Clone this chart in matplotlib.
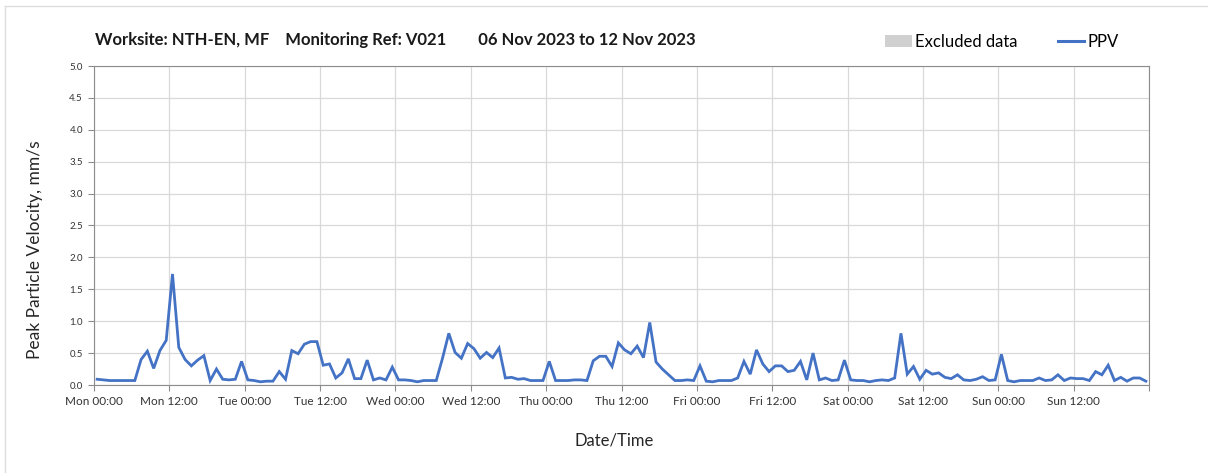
import numpy as np
import matplotlib.pyplot as plt
from matplotlib.patches import Patch
from matplotlib.lines import Line2D

plt.rcParams['font.family'] = ['Lato', 'DejaVu Sans']

# hourly PPV readings, Mon 06 Nov 00:30 onwards (mm/s)
ppv = [
    0.09, 0.08, 0.07, 0.07, 0.07, 0.07, 0.07, 0.40, 0.53, 0.26, 0.54, 0.70,
    1.74, 0.59, 0.40, 0.30, 0.39, 0.46, 0.07, 0.25, 0.09, 0.08, 0.09, 0.37,
    0.08, 0.07, 0.05, 0.06, 0.06, 0.21, 0.09, 0.54, 0.49, 0.64, 0.68, 0.68,
    0.31, 0.33, 0.11, 0.19, 0.41, 0.10, 0.10, 0.39, 0.08, 0.11, 0.08, 0.28,
    0.08, 0.08, 0.07, 0.05, 0.07, 0.07, 0.07, 0.42, 0.81, 0.51, 0.42, 0.65,
    0.57, 0.42, 0.51, 0.43, 0.58, 0.11, 0.12, 0.09, 0.10, 0.07, 0.07, 0.07,
    0.37, 0.07, 0.07, 0.07, 0.08, 0.08, 0.07, 0.38, 0.45, 0.45, 0.29, 0.66,
    0.55, 0.49, 0.61, 0.43, 0.98, 0.36, 0.25, 0.16, 0.07, 0.07, 0.08, 0.07,
    0.30, 0.06, 0.05, 0.07, 0.07, 0.07, 0.11, 0.37, 0.17, 0.55, 0.33, 0.21,
    0.30, 0.30, 0.21, 0.23, 0.37, 0.08, 0.50, 0.08, 0.11, 0.07, 0.08, 0.39,
    0.08, 0.07, 0.07, 0.05, 0.07, 0.08, 0.07, 0.11, 0.81, 0.17, 0.29, 0.09,
    0.23, 0.17, 0.19, 0.12, 0.10, 0.16, 0.08, 0.07, 0.09, 0.13, 0.07, 0.08,
    0.48, 0.07, 0.05, 0.07, 0.07, 0.07, 0.11, 0.07, 0.08, 0.16, 0.07, 0.11,
    0.10, 0.10, 0.07, 0.21, 0.16, 0.31, 0.07, 0.12, 0.06, 0.11, 0.11, 0.06,
]
hours = np.arange(len(ppv)) + 0.5

tick_labels = ['Mon 00:00', 'Mon 12:00', 'Tue 00:00', 'Tue 12:00', 'Wed 00:00',
               'Wed 12:00', 'Thu 00:00', 'Thu 12:00', 'Fri 00:00', 'Fri 12:00',
               'Sat 00:00', 'Sat 12:00', 'Sun 00:00', 'Sun 12:00', '']

W, H = 1208, 473
fig = plt.figure(figsize=(W / 100, H / 100), dpi=100)
ax = fig.add_axes([94 / W, 1 - 385 / H, (1149 - 94) / W, (385 - 66) / H])

blue = '#4472C4'
ax.plot(hours, ppv, color=blue, lw=2.0, solid_joinstyle='miter')

ax.set_xlim(0, 168)
ax.set_ylim(0, 5)
ax.set_xticks(np.arange(0, 169, 12))
ax.set_xticklabels(tick_labels, fontsize=8.5, color='#333333')
ax.set_yticks(np.arange(0, 5.01, 0.5))
ax.set_yticklabels([f'{v:.1f}' for v in np.arange(0, 5.01, 0.5)], fontsize=7, color='#333333')
ax.grid(True, color='#d9d9d9', lw=0.9)
ax.set_axisbelow(True)
for s in ax.spines.values():
    s.set_color('#8c8c8c')
ax.tick_params(axis='both', length=4, color='#8c8c8c', pad=4)

fig.text(95 / W, 1 - 40 / H,
         'Worksite: NTH-EN, MF    Monitoring Ref: V021        06 Nov 2023 to 12 Nov 2023',
         fontsize=12, fontweight='bold', ha='left', va='center', color='#1a1a1a')
fig.text(35 / W, 1 - 250 / H, 'Peak Particle Velocity, mm/s', rotation=90,
         fontsize=12.5, ha='center', va='center', color='#262626')
fig.text(614 / W, 1 - 440 / H, 'Date/Time', fontsize=12, ha='center', va='center',
         color='#262626')

handles = [Patch(facecolor='#d0d0d0', edgecolor='none'),
           Line2D([], [], color=blue, lw=2.2)]
fig.legend(handles, ['Excluded data', 'PPV'], loc='center', ncol=2, frameon=False,
           bbox_to_anchor=(1002 / W, 1 - 42 / H), fontsize=12, handlelength=1.6,
           handletextpad=0.2, columnspacing=2.4)

# outer frame edges of the screenshot
fig.add_artist(Line2D([5 / W, 1], [1 - 6 / H, 1 - 6 / H], color='#dddddd', lw=1))
fig.add_artist(Line2D([5 / W, 5 / W], [0, 1 - 6 / H], color='#dddddd', lw=1))

fig.savefig('out.png', dpi=100)
